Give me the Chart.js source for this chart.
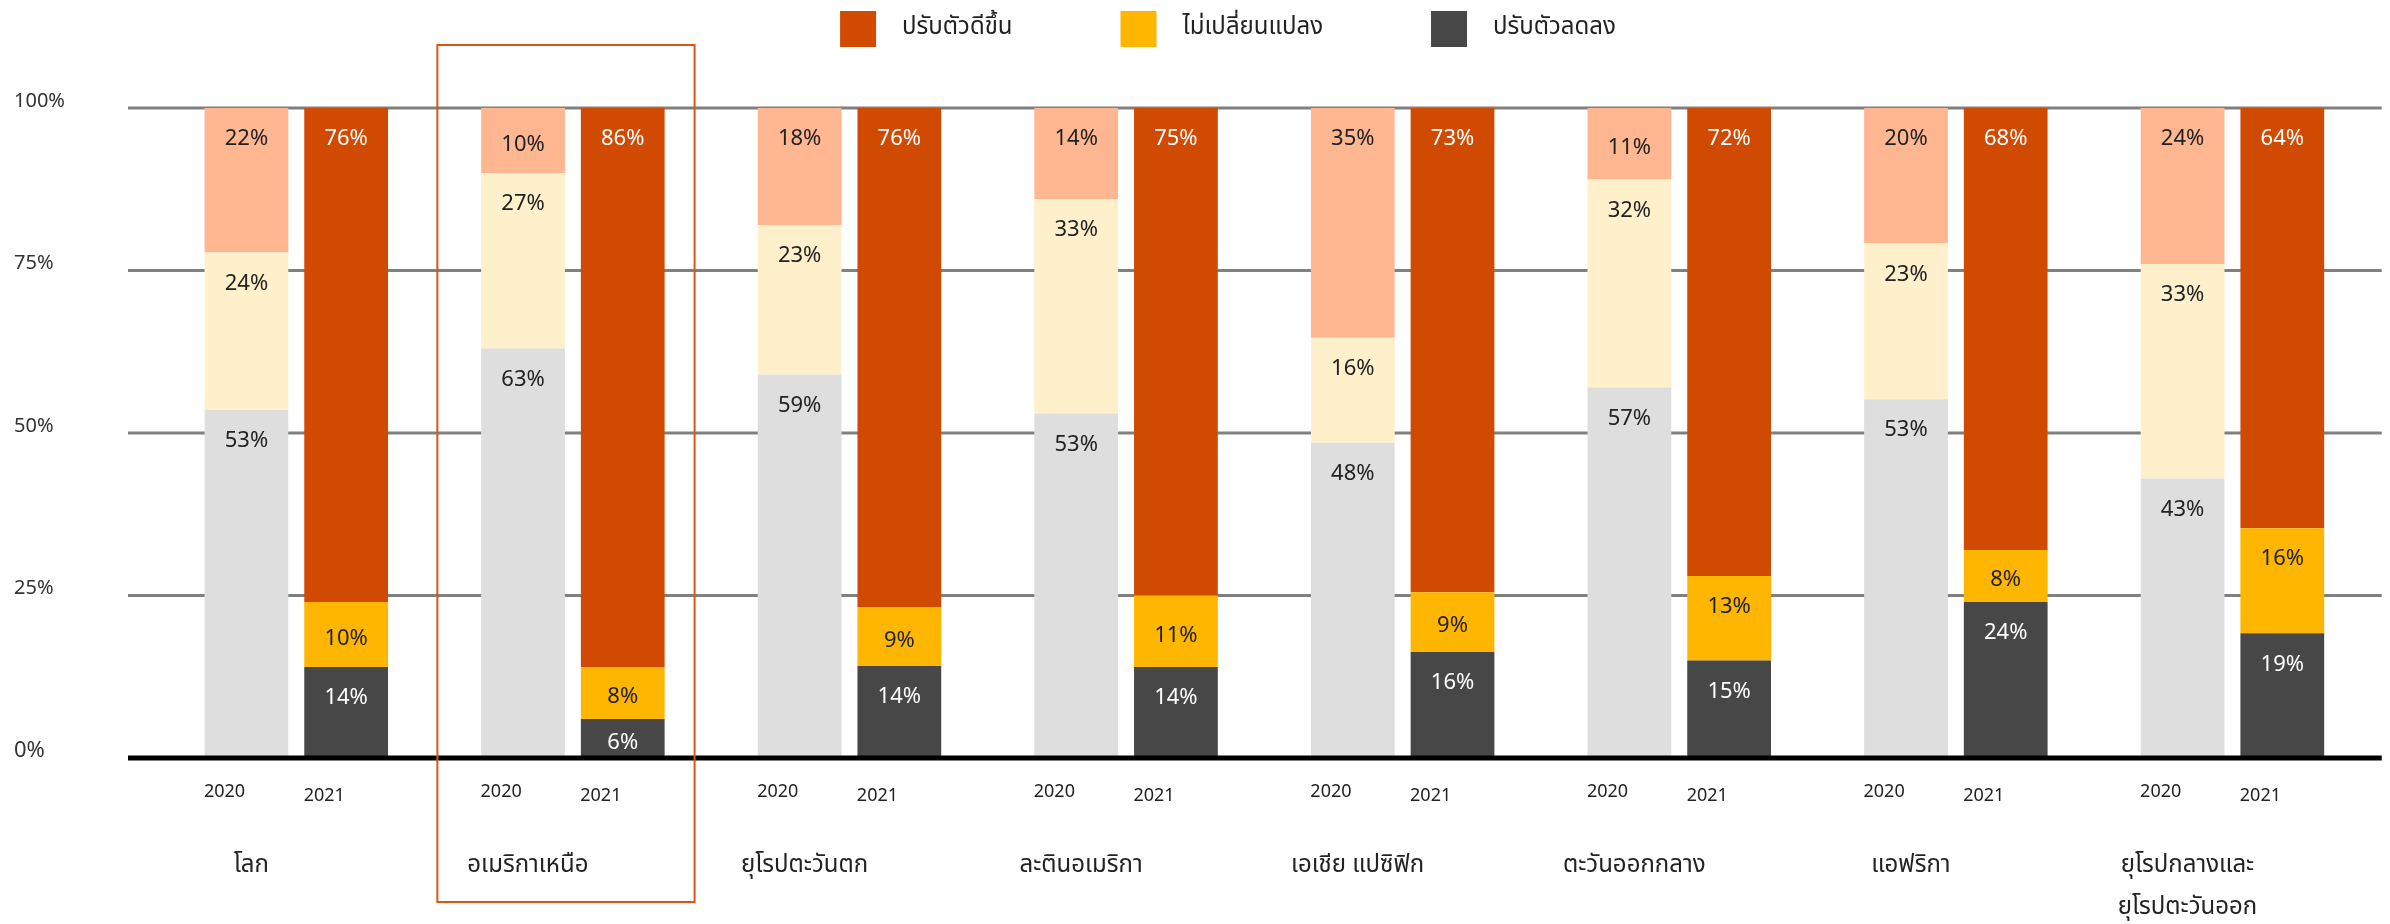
<!DOCTYPE html>
<html>
<head>
<meta charset="utf-8">
<script src="https://cdn.jsdelivr.net/npm/chart.js@4.4.1/dist/chart.umd.min.js"></script>
<style>
html, body { margin: 0; padding: 0; background: #fff; }
</style>
</head>
<body>
<canvas id="chart" width="2390" height="924"></canvas>
<script>
// categories and tick labels
var regions = ['โลก', 'อเมริกาเหนือ', 'ยุโรปตะวันตก', 'ละตินอเมริกา', 'เอเชีย แปซิฟิก',
    'ตะวันออกกลาง', 'แอฟริกา', ['ยุโรปกลางและ', 'ยุโรปตะวันออก']];
var years = ['2020', '2021'];
var yTicks = [0, 25, 50, 75, 100];

// 2020 answers (%)
var down2020 = [53, 63, 59, 53, 48, 57, 53, 43];
var same2020 = [24, 27, 23, 33, 16, 32, 23, 33];
var up2020   = [22, 10, 18, 14, 35, 11, 20, 24];

// 2021 answers (%)
var down2021 = [14, 6, 14, 14, 16, 15, 24, 19];
var same2021 = [10, 8, 9, 11, 9, 13, 8, 16];
var up2021   = [76, 86, 76, 75, 73, 72, 68, 64];

var fontFamily = '"Noto Sans", "Noto Sans Thai", "Leelawadee UI", "DejaVu Sans", sans-serif';

/**
 *  100% stacked chart: each bar is scaled to its own total.
 */
function shares(values, parts) {
    return values.map(function(v, i) {
        var total = 0;
        parts.forEach(function(p) { total += p[i]; });
        return v / total * 100;
    });
}

var parts2020 = [down2020, same2020, up2020];
var parts2021 = [down2021, same2021, up2021];

function makeSet(label, values, parts, color, textColor, stack, inLegend) {
    return {
        label: label,
        data: shares(values, parts),
        raw: values,
        backgroundColor: color,
        textColor: textColor,
        stack: stack,
        inLegend: inLegend,
        borderWidth: 0
    };
}

var datasets = [
    makeSet('ปรับตัวลดลง', down2020, parts2020, '#DEDEDE', '#222222', years[0], false),
    makeSet('ไม่เปลี่ยนแปลง', same2020, parts2020, '#FFF0CC', '#222222', years[0], false),
    makeSet('ปรับตัวดีขึ้น', up2020, parts2020, '#FEB791', '#222222', years[0], false),
    makeSet('ปรับตัวลดลง', down2021, parts2021, '#474747', '#FFFFFF', years[1], true),
    makeSet('ไม่เปลี่ยนแปลง', same2021, parts2021, '#FFB600', '#222222', years[1], true),
    makeSet('ปรับตัวดีขึ้น', up2021, parts2021, '#D04A02', '#FFFFFF', years[1], true)
];

/**
 *  Grid lines, base line, value labels, year labels, highlight frame and legend.
 */
var decorPlugin = {
    id: 'decor',
    beforeDatasetsDraw: function(chart) {
        var ctx = chart.ctx, area = chart.chartArea, y = chart.scales.y;
        ctx.save();
        ctx.strokeStyle = '#808080';
        ctx.lineWidth = 3;
        yTicks.forEach(function(t) {
            if (t === 0) return;
            var py = y.getPixelForValue(t);
            ctx.beginPath();
            ctx.moveTo(area.left - 30, py);
            ctx.lineTo(area.right + 11, py);
            ctx.stroke();
        });
        ctx.restore();
    },
    afterDatasetsDraw: function(chart) {
        var ctx = chart.ctx, area = chart.chartArea, x = chart.scales.x, y = chart.scales.y;
        ctx.save();

        // base line
        var y0 = y.getPixelForValue(0);
        ctx.strokeStyle = '#000000';
        ctx.lineWidth = 5;
        ctx.beginPath();
        ctx.moveTo(area.left - 30, y0);
        ctx.lineTo(area.right + 11, y0);
        ctx.stroke();

        // value labels
        ctx.textAlign = 'center';
        ctx.textBaseline = 'middle';
        ctx.font = '22px ' + fontFamily;
        chart.data.datasets.forEach(function(ds, di) {
            chart.getDatasetMeta(di).data.forEach(function(bar, i) {
                var top = Math.min(bar.y, bar.base);
                var h = Math.abs(bar.base - bar.y);
                var ty = h < 80 ? top + h / 2 + 4 : top + 31;
                ctx.fillStyle = ds.textColor;
                ctx.fillText(ds.raw[i] + '%', bar.x, ty);
            });
        });

        // year under each bar
        ctx.font = '18px ' + fontFamily;
        ctx.fillStyle = '#222222';
        [0, 3].forEach(function(di, k) {
            chart.getDatasetMeta(di).data.forEach(function(bar) {
                var left = bar.x - bar.width / 2;
                ctx.fillText(years[k], left + 20, y0 + 34 + k * 4);
            });
        });

        // frame round North America
        var w = x.getPixelForValue(1) - x.getPixelForValue(0);
        var cx = x.getPixelForValue(1);
        ctx.strokeStyle = '#DC5514';
        ctx.lineWidth = 2;
        ctx.strokeRect(cx - 0.49 * w, area.top - 63, 0.93 * w, chart.height - 22 - (area.top - 63));

        // legend
        var items = chart.data.datasets.filter(function(ds) { return ds.inLegend; }).reverse();
        var box = 36, gap = 26, spacing = 108;
        ctx.font = '24px ' + fontFamily;
        var total = 0;
        items.forEach(function(it, i) {
            total += box + gap + ctx.measureText(it.label).width + (i > 0 ? spacing : 0);
        });
        var lx = chart.width / 2 + 33 - total / 2;
        ctx.textAlign = 'left';
        items.forEach(function(it) {
            ctx.fillStyle = it.backgroundColor;
            ctx.fillRect(lx, 11, box, box);
            ctx.fillStyle = '#222222';
            ctx.fillText(it.label, lx + box + gap, 27);
            lx += box + gap + ctx.measureText(it.label).width + spacing;
        });

        ctx.restore();
    }
};

var chart = new Chart(document.getElementById('chart').getContext('2d'), {
    type: 'bar',
    data: {
        labels: regions,
        datasets: datasets
    },
    options: {
        responsive: false,
        animation: false,
        layout: { padding: { top: 108, left: 14, right: 13, bottom: 0 } },
        datasets: { bar: { categoryPercentage: 0.721, barPercentage: 0.84 } },
        scales: {
            x: {
                stacked: true,
                grid: { display: false, drawTicks: false },
                border: { display: false },
                ticks: {
                    color: '#222222',
                    font: { family: fontFamily, size: 24, lineHeight: 1.72 },
                    padding: 87,
                    labelOffset: -45,
                    maxRotation: 0,
                    autoSkip: false
                },
                afterFit: function(scale) { scale.height = 166; }
            },
            y: {
                stacked: true,
                min: 0,
                max: 100,
                grid: { display: false, drawTicks: false },
                border: { display: false },
                ticks: {
                    stepSize: 25,
                    crossAlign: 'far',
                    labelOffset: -7,
                    color: '#333333',
                    font: function(c) {
                        return { family: fontFamily, size: (c.tick && c.tick.value === 0) ? 22 : 20 };
                    },
                    callback: function(v) { return v + '%'; }
                },
                afterFit: function(scale) { scale.width = 144; }
            }
        },
        plugins: {
            legend: { display: false },
            tooltip: { enabled: false }
        }
    },
    plugins: [decorPlugin]
});
</script>
</body>
</html>
